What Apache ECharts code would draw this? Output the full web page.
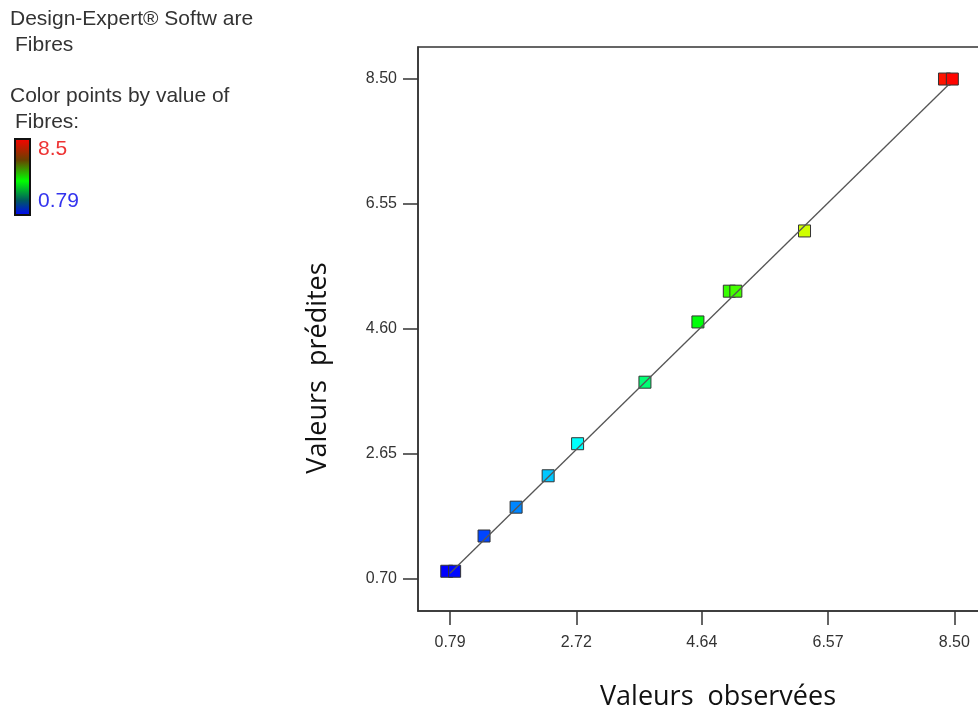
<!DOCTYPE html>
<html>
<head>
<meta charset="utf-8">
<script src="https://cdn.jsdelivr.net/npm/echarts@6/dist/echarts.min.js"></script>
<style>
  html, body { margin: 0; padding: 0; background: #fff; overflow: hidden; }
  /* plot frame runs past the right edge of the window, so the canvas is a bit wider */
  #chart { width: 1000px; height: 718px; }
</style>
</head>
<body>
<div id="chart"></div>
<script>
// Observed vs. predicted values of Fibres
const observed  = [0.74, 0.86, 1.31, 1.80, 2.29, 2.74, 3.77, 4.58, 5.06, 5.16, 6.21, 8.35, 8.47];
const predicted = [0.82, 0.82, 1.37, 1.82, 2.31, 2.81, 3.77, 4.71, 5.19, 5.19, 6.13, 8.50, 8.50];
const xTicks = [0.79, 2.72, 4.64, 6.57, 8.50];
const yTicks = [0.70, 2.65, 4.60, 6.55, 8.50];
const fitLine = [0.79, 8.42];          // y = x reference line, start/end
const colorRange = [0.79, 8.5];        // colour scale for Fibres

const points = observed.map((v, i) => [v, predicted[i]]);
const linePts = fitLine.map(v => [v, v]);

const tickFont = { fontFamily: "'Liberation Sans', Arial, sans-serif", fontSize: 16, color: '#333' };
const textFont = "'Liberation Sans', Arial, sans-serif";
const titleFont = "'Open Sans', 'Noto Sans', sans-serif";

const chart = echarts.init(document.getElementById('chart'), null, { renderer: 'canvas' });

chart.setOption({
  animation: false,
  backgroundColor: '#fff',
  grid: {
    left: 418, top: 47, width: 569, height: 564,
    show: true, borderColor: '#333', borderWidth: 1.5, backgroundColor: 'transparent'
  },
  xAxis: {
    type: 'value', min: 0.30, max: 9.0,
    axisLine: { show: true, lineStyle: { color: '#333', width: 1.5 } },
    axisTick: { show: true, inside: false, length: 14, customValues: xTicks, lineStyle: { color: '#333', width: 1.5 } },
    axisLabel: Object.assign({ margin: 24, customValues: xTicks, formatter: v => v.toFixed(2) }, tickFont),
    splitLine: { show: false }
  },
  yAxis: {
    type: 'value', min: 0.20, max: 9.0,
    axisLine: { show: true, lineStyle: { color: '#333', width: 1.5 } },
    axisTick: { show: true, inside: false, length: 15, customValues: yTicks, lineStyle: { color: '#333', width: 1.5 } },
    axisLabel: Object.assign({ margin: 21, customValues: yTicks, formatter: v => v.toFixed(2) }, tickFont),
    splitLine: { show: false }
  },
  visualMap: {
    show: false, type: 'continuous', dimension: 0, seriesIndex: 0,
    min: colorRange[0], max: colorRange[1],
    inRange: { color: ['#0000ff', '#00ffff', '#00ff00', '#ffff00', '#ff0000'] }
  },
  series: [
    {
      type: 'scatter',
      data: points,
      symbol: 'rect',
      symbolSize: 12,
      itemStyle: { borderColor: '#333', borderWidth: 1, opacity: 1 },
      z: 2
    },
    {
      type: 'line',
      data: linePts,
      symbol: 'none',
      lineStyle: { color: '#555', width: 1.3 },
      z: 3,
      silent: true
    }
  ],
  graphic: [
    { type: 'text', left: 10, top: 9, style: { text: 'Design-Expert® Softw are', font: '21px ' + textFont, fill: '#333' } },
    { type: 'text', left: 15, top: 35, style: { text: 'Fibres', font: '21px ' + textFont, fill: '#333' } },
    { type: 'text', left: 10, top: 86, style: { text: 'Color points by value of', font: '21px ' + textFont, fill: '#333' } },
    { type: 'text', left: 15, top: 112, style: { text: 'Fibres:', font: '21px ' + textFont, fill: '#333' } },
    {
      type: 'rect', shape: { x: 15, y: 139, width: 15, height: 76 },
      style: {
        fill: new echarts.graphic.LinearGradient(0, 0, 0, 1, [
          { offset: 0, color: '#ff0000' },
          { offset: 0.28, color: '#6a4000' },
          { offset: 0.55, color: '#00ff00' },
          { offset: 0.8, color: '#005a60' },
          { offset: 1, color: '#0000ff' }
        ]),
        stroke: '#111', lineWidth: 2
      }
    },
    { type: 'text', left: 38, top: 139, style: { text: '8.5', font: '21px ' + textFont, fill: '#ee3333' } },
    { type: 'text', left: 38, top: 191, style: { text: '0.79', font: '21px ' + textFont, fill: '#3333ee' } },
    {
      type: 'text', x: 318, y: 368, rotation: Math.PI / 2,
      style: { text: 'Valeurs  prédites', font: '27px ' + titleFont, fill: '#111', align: 'center', verticalAlign: 'middle' }
    },
    {
      type: 'text', x: 718, y: 697,
      style: { text: 'Valeurs  observées', font: '27px ' + titleFont, fill: '#111', align: 'center', verticalAlign: 'middle' }
    }
  ]
});
</script>
</body>
</html>
